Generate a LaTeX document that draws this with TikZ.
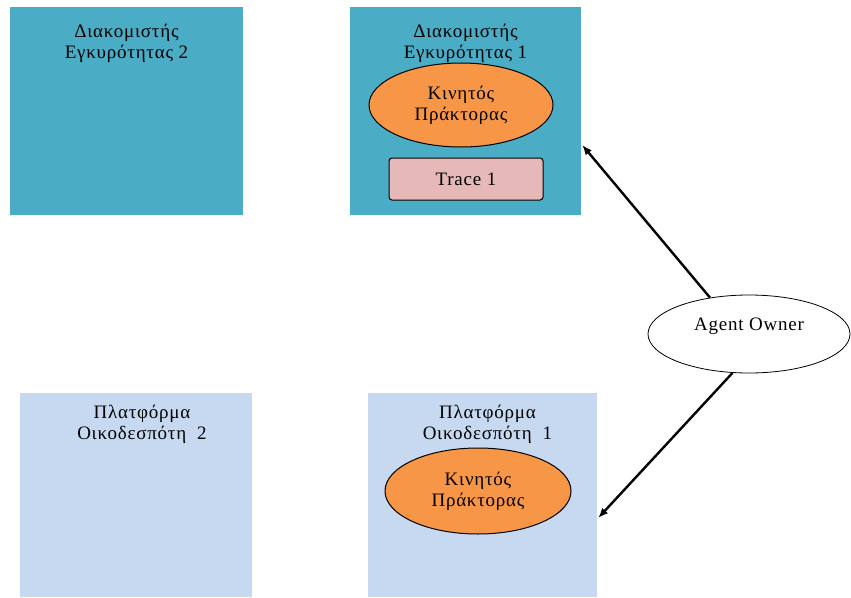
\documentclass[tikz,border=0pt]{standalone}
\usepackage{fontspec}
\setmainfont{Liberation Serif}[LetterSpace=4]
\usetikzlibrary{shapes.geometric,arrows.meta}
\definecolor{servercol}{HTML}{4BACC6}
\definecolor{platcol}{HTML}{C6D9F1}
\definecolor{agentcol}{HTML}{F79646}
\definecolor{tracecol}{HTML}{E6B9B8}
\begin{document}
\begin{tikzpicture}[x=1pt,y=-1pt,
  txt/.style={font=\fontsize{19}{21}\selectfont},
  lbl/.style={txt, align=center, inner sep=0pt},
  serverbox/.style={rectangle, fill=servercol, draw=none, inner sep=0pt},
  platbox/.style={rectangle, fill=platcol, draw=none, inner sep=0pt},
  agentell/.style={ellipse, fill=agentcol, draw=black, line width=1pt, inner sep=0pt,
    txt, align=center},
  tracebox/.style={rectangle, rounded corners=3pt, fill=tracecol, draw=black, line width=1pt,
    inner sep=0pt, txt},
  ownerell/.style={ellipse, fill=white, draw=black, line width=0.8pt, inner sep=0pt, txt},
  link/.style={line width=2.4pt, -{Latex[length=10pt,width=8pt]}}
]
\useasboundingbox (0,0) rectangle (851,597);

% validation servers
\node[serverbox, minimum width=233pt, minimum height=208pt] (srv2) at (126.5,111) {};
\node[serverbox, minimum width=231pt, minimum height=208pt] (srv1) at (465.5,111) {};
\node[lbl, anchor=north] (srv2t) at ([yshift=-17pt]srv2.north) {Διακομιστής\\Εγκυρότητας 2};
\node[lbl, anchor=north] (srv1t) at ([yshift=-17pt]srv1.north) {Διακομιστής\\Εγκυρότητας 1};

% host platforms
\node[platbox, minimum width=232pt, minimum height=204pt] (plat2) at (136,495) {};
\node[platbox, minimum width=229pt, minimum height=204pt] (plat1) at (482.5,495) {};
\node[lbl, anchor=north] (plat2t) at ([xshift=6pt,yshift=-12pt]plat2.north) {Πλατφόρμα\\Οικοδεσπότη\ \ 2};
\node[lbl, anchor=north] (plat1t) at ([xshift=5pt,yshift=-12pt]plat1.north) {Πλατφόρμα\\Οικοδεσπότη\ \ 1};

% mobile agents and trace
\node[agentell, minimum width=184pt, minimum height=84pt] (ag1) at (461,105) {Κινητός\\Πράκτορας};
\node[agentell, minimum width=186pt, minimum height=86pt] (ag2) at (478,491) {Κινητός\\Πράκτορας};
\node[tracebox, minimum width=154pt, minimum height=42pt] (trace) at (466,179) {Trace 1};

% agent owner
\node[ownerell, minimum width=202pt, minimum height=78pt] (owner) at (749,334) {\raisebox{4pt}[0pt][0pt]{Agent Owner}};

\draw[link] (owner.137) -- ([xshift=1pt,yshift=-34pt]srv1.east);
\draw[link] (owner.247) -- ([xshift=1pt,yshift=-23pt]plat1.east);
\end{tikzpicture}
\end{document}
